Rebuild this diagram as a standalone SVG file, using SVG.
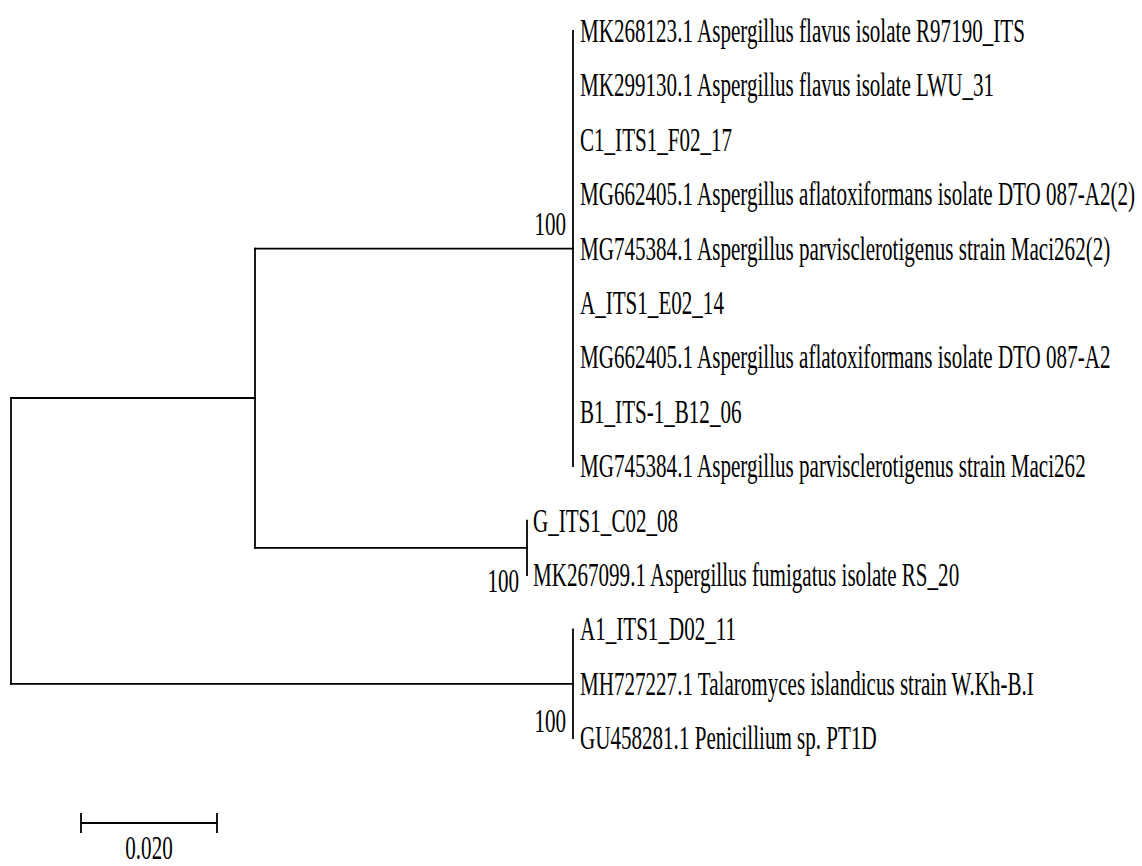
<svg xmlns="http://www.w3.org/2000/svg" width="1142" height="866" viewBox="0 0 1142 866">
<style>
.br{stroke:#000;stroke-width:1.8;fill:none;stroke-linecap:square}
.lbl{font-family:"Liberation Serif","Times New Roman",serif;font-size:34px;fill:#000}
.bs{font-family:"Liberation Serif","Times New Roman",serif;font-size:34px;fill:#000;text-anchor:end}
</style>
<rect width="1142" height="866" fill="#fff"/>
<g id="connectors">
<path class="br" d="M11,398V684"/>
<path class="br" d="M11,398H255"/>
<path class="br" d="M255,248.6V547.8"/>
<path class="br" d="M255,248.6H573"/>
<path class="br" d="M573,31V466.2"/>
<path class="br" d="M255,547.8H527"/>
<path class="br" d="M527,520.6V575"/>
<path class="br" d="M11,683.8H573"/>
<path class="br" d="M573,629.4V738.2"/>
</g>
<g id="leaf1"><text class="lbl" transform="translate(580,42) scale(0.62,1)">MK268123.1 Aspergillus flavus isolate R97190_ITS</text></g>
<g id="leaf2"><text class="lbl" transform="translate(580,96.4) scale(0.62,1)">MK299130.1 Aspergillus flavus isolate LWU_31</text></g>
<g id="leaf3"><text class="lbl" transform="translate(580,150.8) scale(0.62,1)">C1_ITS1_F02_17</text></g>
<g id="leaf4"><text class="lbl" transform="translate(580,205.2) scale(0.62,1)">MG662405.1 Aspergillus aflatoxiformans isolate DTO 087-A2(2)</text></g>
<g id="leaf5"><text class="lbl" transform="translate(580,259.6) scale(0.62,1)">MG745384.1 Aspergillus parvisclerotigenus strain Maci262(2)</text></g>
<g id="leaf6"><text class="lbl" transform="translate(580,314) scale(0.62,1)">A_ITS1_E02_14</text></g>
<g id="leaf7"><text class="lbl" transform="translate(580,368.4) scale(0.62,1)">MG662405.1 Aspergillus aflatoxiformans isolate DTO 087-A2</text></g>
<g id="leaf8"><text class="lbl" transform="translate(580,422.8) scale(0.62,1)">B1_ITS-1_B12_06</text></g>
<g id="leaf9"><text class="lbl" transform="translate(580,477.2) scale(0.62,1)">MG745384.1 Aspergillus parvisclerotigenus strain Maci262</text></g>
<g id="leaf10"><text class="lbl" transform="translate(533,531.6) scale(0.62,1)">G_ITS1_C02_08</text></g>
<g id="leaf11"><text class="lbl" transform="translate(533,586) scale(0.62,1)">MK267099.1 Aspergillus fumigatus isolate RS_20</text></g>
<g id="leaf12"><text class="lbl" transform="translate(580,640.4) scale(0.62,1)">A1_ITS1_D02_11</text></g>
<g id="leaf13"><text class="lbl" transform="translate(580,694.8) scale(0.62,1)">MH727227.1 Talaromyces islandicus strain W.Kh-B.I</text></g>
<g id="leaf14"><text class="lbl" transform="translate(580,749.2) scale(0.62,1)">GU458281.1 Penicillium sp. PT1D</text></g>
<g id="boot1"><text class="bs" transform="translate(566,235) scale(0.62,1)">100</text></g>
<g id="boot2"><text class="bs" transform="translate(519,592) scale(0.62,1)">100</text></g>
<g id="boot3"><text class="bs" transform="translate(566,732) scale(0.62,1)">100</text></g>
<g id="scalebar">
<path class="br" d="M81,823H217M81,813V833M217,813V833" style="stroke-linecap:butt"/>
<text class="lbl" text-anchor="middle" transform="translate(149,859) scale(0.62,1)">0.020</text>
</g>
</svg>
